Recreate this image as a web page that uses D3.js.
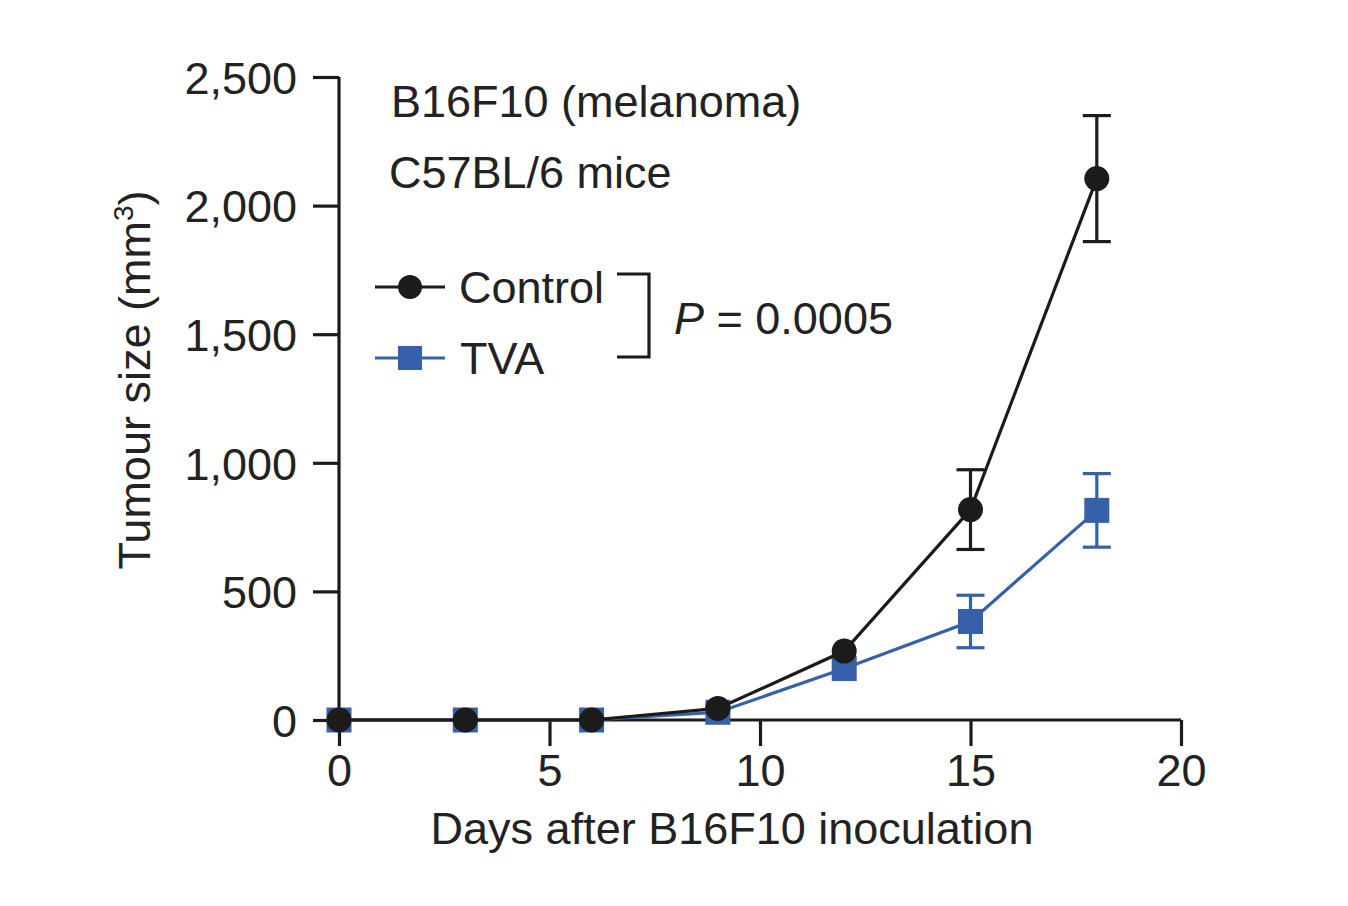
<!DOCTYPE html>
<html><head><meta charset="utf-8">
<script src="https://cdn.jsdelivr.net/npm/d3@7"></script>
<style>
html,body{margin:0;padding:0;background:#fff;}
text{font-family:"Liberation Sans",Arial,Helvetica,sans-serif;fill:#222;}
</style></head>
<body>
<svg id="chart" width="1348" height="906"></svg>
<script>
const days = [0, 3, 6, 9, 12, 15, 18];
const controlMean = [0, 0, 0, 45, 268, 818, 2105];
const controlErr = [0, 0, 0, 0, 0, 155, 245];
const tvaMean = [0, 0, 0, 30, 200, 383, 815];
const tvaErr = [0, 0, 0, 0, 0, 102, 143];
const xTicks = [0, 5, 10, 15, 20];
const yTicks = [0, 500, 1000, 1500, 2000, 2500];
const seriesNames = ["Control", "TVA"];
const pText = "0.0005";

const black = "#1b1b1b", blue = "#3660aa";
const svg = d3.select("#chart");
const x = d3.scaleLinear().domain([0, 20]).range([339, 1181]);
const y = d3.scaleLinear().domain([0, 2500]).range([720, 77]);
const fs = 45;
const lw = 3.2;

// axes
const xa = svg.append("g").attr("transform", `translate(0,${y(0)})`)
  .call(d3.axisBottom(x).tickValues(xTicks).tickSize(26).tickPadding(8).tickFormat(d3.format("d")));
const ya = svg.append("g").attr("transform", `translate(${x(0)},0)`)
  .call(d3.axisLeft(y).tickValues(yTicks).tickSize(26).tickPadding(16).tickFormat(d3.format(",")));
[xa, ya].forEach(a => {
  a.selectAll(".tick line").attr("stroke", black).attr("stroke-width", lw);
  a.selectAll(".tick text").attr("font-size", fs).attr("fill", "#222")
    .attr("font-family", '"Liberation Sans",Arial,sans-serif');
});
xa.select(".domain").attr("d", `M${x(0)},0H${x(20)}`).attr("stroke", black).attr("stroke-width", lw);
ya.select(".domain").remove();
ya.append("line").attr("x1", 0).attr("x2", 0).attr("y1", y(2500)).attr("y2", y(0) + 1.5)
  .attr("stroke", black).attr("stroke-width", lw);
xa.selectAll(".tick text").attr("dy", "0.71em");
ya.selectAll(".tick text").attr("dy", "0.36em");

// axis titles
svg.append("text").attr("x", 732).attr("y", 844).attr("text-anchor", "middle")
  .attr("font-size", fs).text("Days after B16F10 inoculation");
const yl = svg.append("text").attr("transform", "translate(150,380) rotate(-90)")
  .attr("text-anchor", "middle").attr("font-size", fs);
yl.append("tspan").text("Tumour size (mm");
yl.append("tspan").attr("font-size", 28).attr("dy", -17).text("3");
yl.append("tspan").attr("dy", 17).text(")");

// annotations
svg.append("text").attr("x", 391).attr("y", 117).attr("font-size", fs).text("B16F10 (melanoma)");
svg.append("text").attr("x", 389).attr("y", 188).attr("font-size", fs).text("C57BL/6 mice");

// data
const ctrl = days.map((d, i) => ({d, v: controlMean[i], e: controlErr[i]}));
const tva = days.map((d, i) => ({d, v: tvaMean[i], e: tvaErr[i]}));
const line = d3.line().x(p => x(p.d)).y(p => y(p.v));

function errBars(data, color) {
  const g = svg.append("g").attr("stroke", color).attr("stroke-width", lw);
  data.filter(p => p.e > 0).forEach(p => {
    g.append("line").attr("x1", x(p.d)).attr("x2", x(p.d)).attr("y1", y(p.v + p.e)).attr("y2", y(p.v - p.e));
    g.append("line").attr("x1", x(p.d) - 14).attr("x2", x(p.d) + 14).attr("y1", y(p.v + p.e)).attr("y2", y(p.v + p.e));
    g.append("line").attr("x1", x(p.d) - 14).attr("x2", x(p.d) + 14).attr("y1", y(p.v - p.e)).attr("y2", y(p.v - p.e));
  });
}
errBars(tva, blue);
errBars(ctrl, black);

svg.append("path").datum(tva).attr("d", line).attr("fill", "none").attr("stroke", blue).attr("stroke-width", lw);
svg.append("g").selectAll("rect").data(tva).join("rect")
  .attr("x", p => x(p.d) - 12.5).attr("y", p => y(p.v) - 12.5).attr("width", 25).attr("height", 25).attr("fill", blue);
svg.append("path").datum(ctrl).attr("d", line).attr("fill", "none").attr("stroke", black).attr("stroke-width", lw);
svg.append("g").selectAll("circle").data(ctrl).join("circle")
  .attr("cx", p => x(p.d)).attr("cy", p => y(p.v)).attr("r", 12.5).attr("fill", black);

// legend
const lg = svg.append("g");
lg.append("line").attr("x1", 375).attr("x2", 445).attr("y1", 287).attr("y2", 287).attr("stroke", black).attr("stroke-width", lw);
lg.append("circle").attr("cx", 410).attr("cy", 287).attr("r", 12).attr("fill", black);
lg.append("text").attr("x", 459).attr("y", 303).attr("font-size", fs).text(seriesNames[0]);
lg.append("line").attr("x1", 375).attr("x2", 445).attr("y1", 358).attr("y2", 358).attr("stroke", blue).attr("stroke-width", lw);
lg.append("rect").attr("x", 398).attr("y", 346).attr("width", 24).attr("height", 24).attr("fill", blue);
lg.append("text").attr("x", 460).attr("y", 374).attr("font-size", fs).text(seriesNames[1]);
lg.append("path").attr("d", "M617,274H649V357H617").attr("fill", "none").attr("stroke", black).attr("stroke-width", lw);
const pt = lg.append("text").attr("x", 674).attr("y", 334).attr("font-size", fs);
pt.append("tspan").attr("font-style", "italic").text("P");
pt.append("tspan").text(" = " + pText);
</script>
</body></html>
